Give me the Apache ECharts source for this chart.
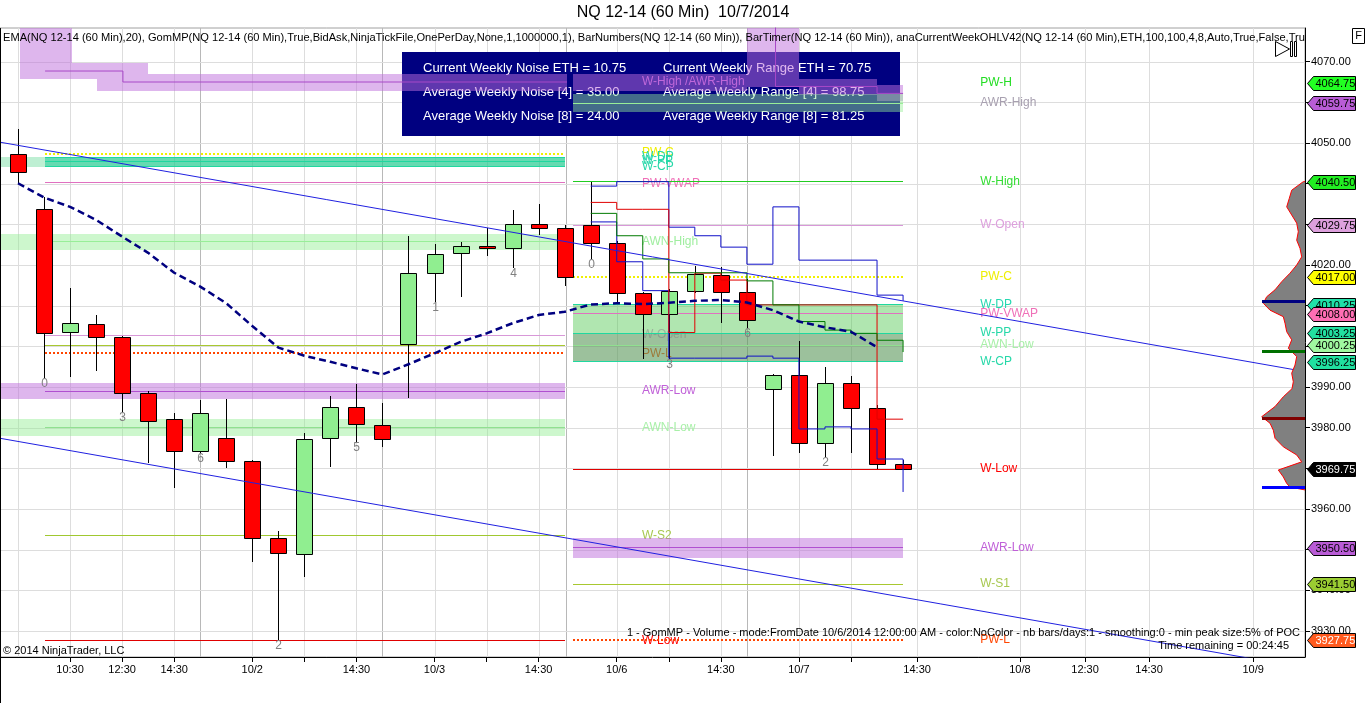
<!DOCTYPE html>
<html><head><meta charset="utf-8">
<script src="https://cdn.jsdelivr.net/npm/echarts@6/dist/echarts.min.js"></script>
<style>html,body{margin:0;padding:0;background:#fff}#c{width:1366px;height:703px}</style>
</head><body><div id="c"></div>
<script>
// ================= DATA =================
const bars   = [0,1,2,3,4,5,6,7,8,9,10,11,12,13,14,15,16,17,18,19,20,21,22,23,24,25,26,27,28,29,30,31,32,33,34];
const openP  = [4047.3,4033.7,4003.5,4005.4,4002.4,3988.6,3982.1,3974.3,3977.4,3971.7,3953.0,3948.9,3977.4,3985.0,3980.6,4000.5,4018.0,4022.9,4024.8,4024.1,4030.0,4029.0,4029.8,4025.3,4013.0,4007.9,4013.7,4017.5,4013.4,3989.4,3992.9,3976.2,3990.9,3984.8,3971.0];
const highP  = [4053.4,4036.8,4014.3,4007.7,4002.6,3989.0,3983.5,3986.8,3987.0,3972.1,3954.6,3978.6,3987.8,3990.7,3986.1,4027.1,4025.2,4025.6,4029.2,4033.5,4035.0,4029.8,4040.5,4025.8,4013.3,4014.0,4019.8,4019.6,4016.5,3993.2,4001.3,3994.9,3992.7,3985.5,3972.0];
const lowP   = [4040.2,3992.2,3992.5,3994.0,3983.9,3971.4,3965.2,3973.8,3970.2,3947.0,3927.75,3943.4,3970.3,3976.6,3975.3,3987.2,4011.0,4012.2,4022.2,4019.2,4027.4,4014.8,4021.5,4010.6,3996.8,3997.0,4013.2,4005.8,4004.4,3973.0,3973.7,3972.7,3973.7,3969.75,3969.75];
const closeP = [4042.9,4003.2,4005.7,4002.4,3988.6,3981.7,3974.3,3983.5,3971.9,3953.0,3949.1,3977.2,3985.0,3980.8,3977.2,4018.0,4022.6,4024.8,4024.3,4030.0,4029.0,4017.0,4025.3,4013.0,4007.9,4013.7,4017.8,4013.4,4006.6,3992.9,3976.2,3990.9,3984.8,3971.0,3969.75];

// EMA(20) for bars 0..33
const emaP = [4040.1,4036.6,4034.3,4031.1,4027.0,4023.0,4018.1,4014.7,4010.6,4005.0,3999.7,3997.7,3996.2,3994.6,3993.1,3995.6,3998.3,4001.1,4003.2,4005.7,4007.7,4008.5,4010.3,4010.6,4010.4,4010.7,4011.2,4011.4,4010.8,4008.9,4006.1,4004.7,4003.6,3999.8];

// anaCurrentWeek step plots, bars 22..34
const stepStartBar = 22;
const blueHighStep = [4039.4,4040.5,4040.5,4029.3,4027.2,4024.4,4020.2,4034.3,4021.2,4021.2,4021.2,4012.6,4011.2];
const blueLowStep  = [4030.6,4020.8,4013.7,3997.1,3997.1,3997.1,3997.6,3997.1,3979.7,3980.2,3979.7,3972.3,3964.2];
const redStep      = [4035.4,4033.7,4033.7,4003.4,4018.0,4016.3,4010.2,4010.2,4010.2,4010.2,4010.2,3982.1,3982.1];
const greenStep    = [4032.7,4027.2,4021.5,4018.1,4018.1,4018.1,4016.1,4010.2,4006.1,4004.0,4003.2,4001.5,3998.6];

// BarNumbers
const barNumberBars = [1,4,7,10,13,16,19,22,25,28,31];
const barNumberText = ['0','3','6','2','5','1','4','0','3','6','2'];

// axis ticks
const xTickVals = [2,4,6,9,11,13,16,18,20,23,25,27,30,32,34.54,38.49,40.99,43.45,47.45];
const xTickText = ['10:30','12:30','14:30','10/2','','14:30','10/3','','14:30','10/6','','14:30','10/7','','14:30','10/8','12:30','14:30','10/9'];
const xSessionLines = [7,14,21.05,28];
const yTickVals = [3930,3940,3950,3960,3970,3980,3990,4000,4010,4020,4030,4040,4050,4060,4070];

// axis ranges
const X_MIN = -0.6915, X_MAX = 49.44, Y_MIN = 3923.62, Y_MAX = 4078.28;

// weekly levels: previous week (drawn bars 1.04..21.0) and current week (21.32..34)
const prevWeekRange = [1.04, 21.0];
const curWeekRange  = [21.32, 34.0];
const prevLineNames  = ['PW-C','W-DP','W-PP','W-CP','PW-VWAP','AWN-High','W-Open','W-S1','PW-L','AWR-Low','AWN-Low','W-S2','W-Low'];
const prevLinePrices = [4047.25,4046.5,4045.5,4044.25,4040.25,4025.75,4002.75,4000.25,3998.25,3989.0,3980.0,3953.5,3927.75];
const curLineNames   = ['AWN-High','W-High','W-Open','PW-C','W-DP','PW-VWAP','W-PP','AWN-Low','W-CP','W-Low','AWR-Low','W-S1','PW-L'];
const curLinePrices  = [4059.75,4040.5,4029.75,4017.0,4010.25,4008.0,4003.25,4000.25,3996.25,3969.75,3950.5,3941.5,3927.75];

const prevLabelNames  = ['W-High /AWR-High','PW-C','W-DP','W-PP','W-CP','PW-VWAP','AWN-High','W-Open','PW-L','AWR-Low','AWN-Low','W-S2','W-Low'];
const prevLabelPrices = [4065.0,4047.5,4046.6,4045.6,4044.1,4040.0,4025.75,4002.75,3998.0,3989.0,3980.0,3953.3,3927.6];
const curLabelNames   = ['PW-H','AWR-High','W-High','W-Open','PW-C','W-DP','PW-VWAP','W-PP','AWN-Low','W-CP','W-Low','AWR-Low','W-S1','PW-L'];
const curLabelPrices  = [4064.75,4059.75,4040.5,4029.75,4017.0,4010.25,4008.0,4003.25,4000.25,3996.25,3969.75,3950.5,3941.5,3927.75];

// zones (bands)
const zoneKind = ['awr','awr','awr','awr','tealA','tealB','awn','awr','awn','awr','awr','awr','awr','awnCur','wzone','wzone2','awr'];
const zoneX1   = [0.077,0.077,3.03,3.03,X_MIN,1.04,X_MIN,X_MIN,X_MIN,21.32,28.0,30.0,33.0,21.32,21.32,21.32,21.32];
const zoneX2   = [2.07,3.03,4.99,21.09,21.0,21.0,21.0,21.0,21.0,28.0,30.0,33.0,34.0,34.0,34.0,34.0,34.0];
const zoneLow  = [4069.7,4065.7,4067.0,4062.8,4044.0,4044.0,4023.7,3987.1,3978.0,4062.8,4063.8,4061.8,4060.3,4057.6,3996.25,3996.25,3948.0];
const zoneHigh = [4080,4069.7,4069.7,4067.0,4046.6,4046.6,4027.6,3991.0,3982.1,4067.0,4080,4065.7,4064.3,4062.0,4010.25,4003.25,3952.9];
const awrHighPrevCenter = [[1.04,4067.7],[4.03,4067.7],[4.03,4065.0],[21.09,4065.0]];
const awrHighCurCenter  = [[29.1,4080],[29.1,4063.9],[33,4063.9],[33,4062.2],[34,4062.2]];

// trend lines
const trendUpper = [[X_MIN,4050.2],[X_MAX,3993.8]];
const trendLower = [[X_MIN,3977.4],[X_MAX,3920.9]];

// price markers on the right axis
const markerPrices = [4064.75,4059.75,4040.50,4029.75,4017.00,4010.25,4008.00,4003.25,4000.25,3996.25,3969.75,3950.50,3941.50,3927.75];
const markerNames  = ['PW-H','AWR-High','W-High','W-Open','PW-C','W-DP','PW-VWAP','W-PP','AWN-Low','W-CP','Last','AWR-Low','W-S1','PW-L'];

// GomMP volume profile (relative volume per price)
const profilePrices  = [4040.5,4038.4,4036.4,4034.3,4032.3,4030.3,4028.2,4026.1,4024.1,4022.0,4020.0,4018.0,4015.9,4013.9,4012.2,4010.6,4008.9,4007.3,4005.7,4003.6,4001.6,3999.5,3997.5,3995.4,3993.4,3991.3,3989.6,3987.6,3985.2,3982.7,3981.1,3979.4,3977.4,3975.3,3973.3,3971.6,3969.6,3967.9,3966.3,3965.4,3964.7];
const profileVolumes = [1.7,13.3,15.7,18.3,13.3,8.3,6.7,8.3,5,3.3,8.3,15,23.3,30,38.3,41.7,35,21.7,20,18.3,13.3,16.7,8.3,10,13.3,11.7,13,21.7,30,43.3,35,31.7,30,21.7,8.3,3.3,26.7,21.7,18.3,15,0];
const profileLevelPrices = [4011.25,3998.75,3982.5,3965.5];

// info box
const boxLeftText  = ['Current Weekly Noise ETH = 10.75','Average Weekly Noise [4] = 35.00','Average Weekly Noise [8] = 24.00'];
const boxRightText = ['Current Weekly Range ETH = 70.75','Average Weekly Range [4] = 98.75','Average Weekly Range [8] = 81.25'];

// ================= STYLES =================
const FONT = "'Liberation Sans', Arial, sans-serif";
const zoneFill = {
  awr:'rgba(190,110,220,0.5)', tealA:'rgba(70,210,130,0.35)', tealB:'rgba(30,200,150,0.55)',
  awn:'rgba(144,238,144,0.45)', awnCur:'rgba(150,240,150,0.45)', wzone:'rgba(80,200,80,0.45)', wzone2:'rgba(110,110,110,0.3)'
};
const lineStyleMap = {
  'PW-C':{c:'#f0f000',w:2,d:true}, 'W-DP':{c:'#20d8a0',w:1}, 'W-PP':{c:'#20d8a0',w:1}, 'W-CP':{c:'#20d8a0',w:1},
  'PW-VWAP':{c:'#e070c0',w:1}, 'AWN-High':{c:'#98ee98',w:1}, 'W-Open':{c:'#d898d8',w:1}, 'W-S1':{c:'#a8c830',w:1},
  'PW-L':{c:'#ff4500',w:2,d:true}, 'AWR-Low':{c:'#b050d0',w:1}, 'AWN-Low':{c:'#90e090',w:1}, 'W-S2':{c:'#a0c830',w:1},
  'W-Low':{c:'#e00000',w:1}, 'W-High':{c:'#22cc22',w:1}
};
const labelColor = {
  'PW-H':'#22dd22','AWR-High':'#a8a0b0','W-High':'#33dd33','W-Open':'#dda0dd','PW-C':'#eeee00','W-DP':'#25d8b0',
  'PW-VWAP':'#f070b8','W-PP':'#25d8a8','AWN-Low':'#a8f0a8','W-CP':'#25d8a8','W-Low':'#ff0000','AWR-Low':'#c060d8',
  'W-S1':'#a8c850','PW-L':'#ff4500','W-High /AWR-High':'#c060d8','AWN-High':'#a0eea0','W-S2':'#a8c850'
};
const markerFill = {
  'PW-H':'#22ff22','AWR-High':'#b95cd6','W-High':'#22ee22','W-Open':'#dda0dd','PW-C':'#ffff00','W-DP':'#20e0a8',
  'PW-VWAP':'#ff6eb4','W-PP':'#22e0a0','AWN-Low':'#a0f8a0','W-CP':'#20e0a0','Last':'#000000','AWR-Low':'#b95cd6',
  'W-S1':'#9acd32','PW-L':'#ff5a1e'
};
const markerText = {'Last':'#ffffff','PW-L':'#ffffff'};
const profileLevelColors = ['#000080','#007000','#800000','#0000ff'];

// ================= CHART =================
const chart = echarts.init(document.getElementById('c'), null, {renderer:'canvas', width:1366, height:703});

function xLabel(v){ const i = xTickVals.findIndex(t => Math.abs(t - v) < 1e-6); return i >= 0 ? xTickText[i] : ''; }

const levelData = [];
prevLineNames.forEach((n,i)=>levelData.push({name:n, x1:prevWeekRange[0], x2:prevWeekRange[1], p:prevLinePrices[i]}));
curLineNames.forEach((n,i)=>levelData.push({name:n, x1:curWeekRange[0], x2:curWeekRange[1], p:curLinePrices[i]}));

const labelData = [];
prevLabelNames.forEach((n,i)=>labelData.push({name:n, x:23.97, p:prevLabelPrices[i]}));
curLabelNames.forEach((n,i)=>labelData.push({name:n, x:36.96, p:curLabelPrices[i]}));

function stepData(arr){ return arr.map((v,i)=>[stepStartBar+i, v]); }

const series = [];

// gridlines
series.push({
  type:'custom', coordinateSystem:'cartesian2d', xAxisIndex:0, yAxisIndex:0, z:0, silent:true,
  data:[[0, 4000]], encode:{x:0, y:1},
  renderItem(params, api){
    const ch = [];
    const tl = api.coord([X_MIN, Y_MAX]), br = api.coord([X_MAX, Y_MIN]);
    [0].concat(xTickVals).forEach(v=>{
      const x = Math.round(api.coord([v, Y_MIN])[0]);
      ch.push({type:'rect', shape:{x:x, y:tl[1], width:1, height:br[1]-tl[1]}, style:{fill:'#dddddd'}});
    });
    xSessionLines.forEach(v=>{
      const x = Math.round(api.coord([v, Y_MIN])[0]);
      ch.push({type:'rect', shape:{x:x, y:tl[1], width:1, height:br[1]-tl[1]}, style:{fill:'#b8b8b8'}});
    });
    yTickVals.forEach(v=>{
      const y = Math.round(api.coord([X_MIN, v])[1]);
      ch.push({type:'rect', shape:{x:tl[0], y:y, width:br[0]-tl[0], height:1}, style:{fill:'#dddddd'}});
    });
    return {type:'group', children:ch};
  }
});

// level labels (under the zones)
series.push({
  type:'custom', coordinateSystem:'cartesian2d', z:3, silent:true, clip:true,
  data: labelData.map(d=>[d.x, d.p]), encode:{x:0, y:1},
  renderItem(params, api){
    const d = labelData[params.dataIndex];
    const c = api.coord([d.x, d.p]);
    return {type:'text', x:c[0], y:Math.round(c[1]), style:{text:d.name, fill:labelColor[d.name]||'#888', font:'12px '+FONT, textAlign:'left', align:'left', textVerticalAlign:'middle', verticalAlign:'middle'}};
  }
});

// zones
series.push({
  type:'custom', coordinateSystem:'cartesian2d', z:4, silent:true, clip:true,
  data: zoneX1.map((x,i)=>[zoneX1[i], zoneLow[i], zoneX2[i], zoneHigh[i]]), encode:{x:[0,2], y:[1,3]},
  renderItem(params, api){
    const i = params.dataIndex;
    const a = api.coord([zoneX1[i], zoneHigh[i]]), b = api.coord([zoneX2[i], zoneLow[i]]);
    return {type:'rect', shape:{x:Math.round(a[0]), y:Math.round(a[1]), width:Math.round(b[0])-Math.round(a[0]), height:Math.round(b[1])-Math.round(a[1])}, style:{fill:zoneFill[zoneKind[i]]}};
  }
});

// level lines (crisp filled rects; dotted ones as 2px dots)
series.push({
  type:'custom', coordinateSystem:'cartesian2d', z:5, silent:true, clip:true,
  data: levelData.map(d=>[d.x1, d.p, d.x2]), encode:{x:[0,2], y:1},
  renderItem(params, api){
    const d = levelData[params.dataIndex];
    const s = lineStyleMap[d.name];
    const a = api.coord([d.x1, d.p]), b = api.coord([d.x2, d.p]);
    const y = Math.round(a[1] - s.w/2);
    const x0 = Math.round(a[0]), x1 = Math.round(b[0]);
    if (!s.d) return {type:'rect', shape:{x:x0, y:y, width:x1-x0, height:s.w}, style:{fill:s.c}};
    const ch = [];
    for (let x = x0; x < x1; x += 4) ch.push({type:'rect', shape:{x:x, y:y, width:2, height:s.w}, style:{fill:s.c}});
    return {type:'group', children:ch};
  }
});

// AWR-High center lines
[awrHighPrevCenter, awrHighCurCenter].forEach(d=>series.push({
  type:'line', data:d, symbol:'none', z:5, silent:true, lineStyle:{color:'#a848c8', width:1}, clip:true
}));

// candles
series.push({
  type:'custom', coordinateSystem:'cartesian2d', z:6, silent:true, clip:true,
  data: bars.map((b,i)=>[b, openP[i], closeP[i], lowP[i], highP[i]]), encode:{x:0, y:[1,2,3,4]},
  renderItem(params, api){
    const i = params.dataIndex;
    const x = api.value(0);
    const o = api.coord([x, openP[i]]), c = api.coord([x, closeP[i]]);
    const h = api.coord([x, highP[i]]), l = api.coord([x, lowP[i]]);
    const cx = Math.round(o[0]);
    const top = Math.round(Math.min(o[1], c[1])), bot = Math.round(Math.max(o[1], c[1]));
    const up = closeP[i] > openP[i];
    return {type:'group', children:[
      {type:'rect', shape:{x:cx, y:Math.round(h[1]), width:1, height:Math.round(l[1])-Math.round(h[1])}, style:{fill:'#000'}},
      {type:'rect', shape:{x:cx-7.5, y:top+0.5, width:16, height:Math.max(bot-top, 2)}, style:{fill: up ? '#90ee90' : '#ff0000', stroke:'#000', lineWidth:1}}
    ]};
  }
});

// step lines
[[blueHighStep,'#1010c8'],[blueLowStep,'#1010c8'],[redStep,'#e00000'],[greenStep,'#007a00']].forEach(([arr,col])=>series.push({
  type:'line', data: stepData(arr), step:'end', symbol:'none', z:7, silent:true, clip:true, color:col, lineStyle:{color:col, width:1}
}));

// trend lines
[trendUpper, trendLower].forEach(d=>series.push({
  type:'line', data:d, symbol:'none', z:8, silent:true, clip:true, color:'#2020e0', lineStyle:{color:'#2020e0', width:1}
}));

// EMA
series.push({
  type:'line', data: emaP.map((v,i)=>[bars[i], v]), symbol:'none', z:9, silent:true, clip:true, color:'#000080',
  lineStyle:{color:'#000080', width:2.5, type:[7,4]}
});

// bar numbers
series.push({
  type:'custom', coordinateSystem:'cartesian2d', z:10, silent:true,
  data: barNumberBars.map(b=>[b, lowP[b]]), encode:{x:0, y:1},
  renderItem(params, api){
    const c = api.coord([api.value(0), api.value(1)]);
    return {type:'text', x:Math.round(c[0])+0.5, y:Math.round(c[1]), style:{text:barNumberText[params.dataIndex], fill:'#808080', font:'12px '+FONT, textAlign:'center', align:'center', textVerticalAlign:'top', verticalAlign:'top'}};
  }
});

// volume profile (grid 2)
series.push({
  type:'custom', coordinateSystem:'cartesian2d', xAxisIndex:1, yAxisIndex:1, z:11, silent:true, clip:false,
  data:[[0, profilePrices[0]]], encode:{x:0, y:1},
  renderItem(params, api){
    const pts = profilePrices.map((p,i)=>api.coord([profileVolumes[i], p]));
    const t = api.coord([0, profilePrices[0]]), b = api.coord([0, profilePrices[profilePrices.length-1]]);
    const poly = [t].concat(pts).concat([b]);
    const ch = [
      {type:'polygon', shape:{points:poly}, style:{fill:'#808080'}},
      {type:'polyline', shape:{points:poly}, style:{stroke:'#ff0000', lineWidth:1, fill:null}}
    ];
    profileLevelPrices.forEach((p,k)=>{
      const a = api.coord([0,p]), e = api.coord([43,p]);
      ch.push({type:'rect', shape:{x:Math.round(e[0]), y:Math.round(a[1])-1, width:Math.round(a[0]-e[0]), height:3}, style:{fill:profileLevelColors[k]}});
    });
    return {type:'group', children:ch};
  }
});

// right axis price markers
series.push({
  type:'custom', coordinateSystem:'cartesian2d', z:30, silent:true, clip:false,
  data: markerPrices.map(p=>[X_MAX, p]), encode:{x:0, y:1},
  renderItem(params, api){
    const i = params.dataIndex, n = markerNames[i];
    const c = api.coord([X_MAX, markerPrices[i]]);
    const x0 = Math.round(c[0]) + 2.5, y = Math.round(c[1]) + 0.5;
    return {type:'group', children:[
      {type:'polygon', shape:{points:[[x0,y],[x0+6,y-7],[x0+48,y-7],[x0+48,y+7],[x0+6,y+7]]}, style:{fill:markerFill[n], stroke:'#000', lineWidth:1}},
      {type:'text', x:x0+8, y:y, style:{text:markerPrices[i].toFixed(2), fill:markerText[n]||'#000', font:'11px '+FONT, textAlign:'left', align:'left', textVerticalAlign:'middle', verticalAlign:'middle'}}
    ]};
  }
});

const graphic = [
  {type:'rect', z:1, shape:{x:402, y:52, width:498, height:84}, style:{fill:'#000080'}},
  ...boxLeftText.map((t,i)=>({type:'text', z:1, x:423, y:68+24*i, style:{text:t, fill:'#fff', font:'13px '+FONT, textVerticalAlign:'middle', verticalAlign:'middle'}})),
  ...boxRightText.map((t,i)=>({type:'text', z:1, x:663, y:68+24*i, style:{text:t, fill:'#fff', font:'13px '+FONT, textVerticalAlign:'middle', verticalAlign:'middle'}})),
  {type:'text', z:50, x:683, y:13, style:{text:'NQ 12-14 (60 Min)  10/7/2014', fill:'#000', font:'16px '+FONT, textAlign:'center', align:'center', textVerticalAlign:'middle', verticalAlign:'middle'}},
  {type:'text', z:50, x:3, y:38, style:{text:'EMA(NQ 12-14 (60 Min),20), GomMP(NQ 12-14 (60 Min),True,BidAsk,NinjaTickFile,OnePerDay,None,1,1000000,1), BarNumbers(NQ 12-14 (60 Min)), BarTimer(NQ 12-14 (60 Min)), anaCurrentWeekOHLV42(NQ 12-14 (60 Min),ETH,100,100,4,8,Auto,True,False,Tru', fill:'#000', font:'11.1px '+FONT, textVerticalAlign:'middle', verticalAlign:'middle'}},
  {type:'text', z:50, x:3, y:651, style:{text:'© 2014 NinjaTrader, LLC', fill:'#000', font:'11px '+FONT, textVerticalAlign:'middle', verticalAlign:'middle'}},
  {type:'text', z:50, x:1300, y:633, style:{text:'1 - GomMP - Volume - mode:FromDate 10/6/2014 12:00:00 AM - color:NoColor - nb bars/days:1 - smoothing:0 - min peak size:5% of POC', fill:'#000', font:'11px '+FONT, textAlign:'right', align:'right', textVerticalAlign:'middle', verticalAlign:'middle'}},
  {type:'text', z:50, x:1289, y:646, style:{text:'Time remaining = 00:24:45', fill:'#000', font:'11px '+FONT, textAlign:'right', align:'right', textVerticalAlign:'middle', verticalAlign:'middle'}},
  {type:'rect', z:50, shape:{x:0, y:28, width:1, height:675}, style:{fill:'#000'}},
  {type:'rect', z:50, shape:{x:1352.5, y:28.5, width:12, height:15}, style:{fill:'#fff', stroke:'#000', lineWidth:1}},
  {type:'text', z:51, x:1358.5, y:36, style:{text:'F', fill:'#000', font:'11px '+FONT, textAlign:'center', align:'center', textVerticalAlign:'middle', verticalAlign:'middle'}},
  {type:'polygon', z:50, shape:{points:[[1275.5,41.5],[1289.5,49],[1275.5,56.5]]}, style:{fill:'#fff', stroke:'#000', lineWidth:1}},
  {type:'rect', z:50, shape:{x:1290.5, y:41.5, width:2, height:15}, style:{fill:'#fff', stroke:'#000', lineWidth:1}},
  {type:'rect', z:50, shape:{x:1294.5, y:41.5, width:2, height:15}, style:{fill:'#fff', stroke:'#000', lineWidth:1}}
];

const option = {
  animation:false,
  backgroundColor:'#ffffff',
  grid:[
    {left:0, right:61, top:28, bottom:46, show:true, borderColor:'#a0a0a0', borderWidth:1},
    {left:1160, right:61, top:28, bottom:46, show:false}
  ],
  xAxis:[
    {type:'value', gridIndex:0, min:X_MIN, max:X_MAX, position:'bottom',
     axisLine:{show:true, onZero:false, lineStyle:{color:'#000', width:1}},
     axisTick:{show:true, customValues:xTickVals, length:5, lineStyle:{color:'#000'}},
     axisLabel:{show:true, customValues:xTickVals.filter((v,i)=>xTickText[i] !== ''), formatter:xLabel, color:'#000', fontSize:11, fontFamily:FONT, margin:7},
     splitLine:{show:false}},
    {type:'value', gridIndex:1, min:0, max:145, inverse:true, show:false}
  ],
  yAxis:[
    {type:'value', gridIndex:0, min:Y_MIN, max:Y_MAX, position:'right',
     axisLine:{show:true, onZero:false, lineStyle:{color:'#000', width:1}},
     axisTick:{show:true, customValues:yTickVals, length:5, lineStyle:{color:'#000'}},
     axisLabel:{show:true, customValues:yTickVals, formatter:v=>Number(v).toFixed(2), color:'#000', fontSize:11, fontFamily:FONT, margin:6},
     splitLine:{show:false}},
    {type:'value', gridIndex:1, min:Y_MIN, max:Y_MAX, show:false}
  ],
  graphic: graphic,
  series: series
};
chart.setOption(option);
</script>
</body></html>
